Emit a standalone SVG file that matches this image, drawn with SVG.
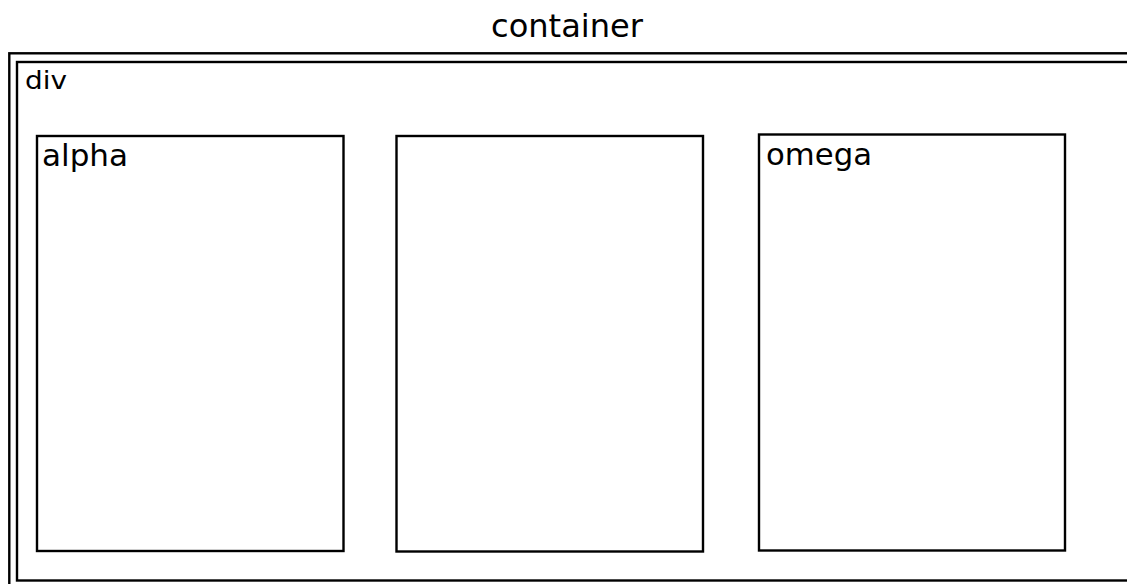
<svg xmlns="http://www.w3.org/2000/svg" width="1127" height="584" viewBox="0 0 1127 584">
  <style>
    .box { fill: none; stroke: #000; stroke-width: 2.4; }
    .label { font-family: "DejaVu Sans", "Liberation Sans", sans-serif; fill: #000; }
  </style>
  <rect width="1127" height="584" fill="#fff"/>

  <g id="container">
    <text class="label" x="491" y="37" font-size="32" textLength="152" lengthAdjust="spacingAndGlyphs">container</text>
    <rect class="box" x="9.3" y="53.3" width="1130" height="545"/>
  </g>

  <g id="div">
    <rect class="box" x="17" y="62" width="1120" height="518.5"/>
    <text class="label" x="25" y="89" font-size="25" textLength="42" lengthAdjust="spacingAndGlyphs">div</text>
  </g>

  <g id="alpha">
    <rect class="box" x="37" y="136" width="306.5" height="415"/>
    <text class="label" x="42" y="165.5" font-size="31" textLength="86" lengthAdjust="spacingAndGlyphs">alpha</text>
  </g>

  <g id="middle">
    <rect class="box" x="396.5" y="136" width="306.5" height="415.5"/>
  </g>

  <g id="omega">
    <rect class="box" x="759" y="134.5" width="306" height="416"/>
    <text class="label" x="766" y="165" font-size="31" textLength="106" lengthAdjust="spacingAndGlyphs">omega</text>
  </g>

  <g id="connectors"></g>
</svg>
